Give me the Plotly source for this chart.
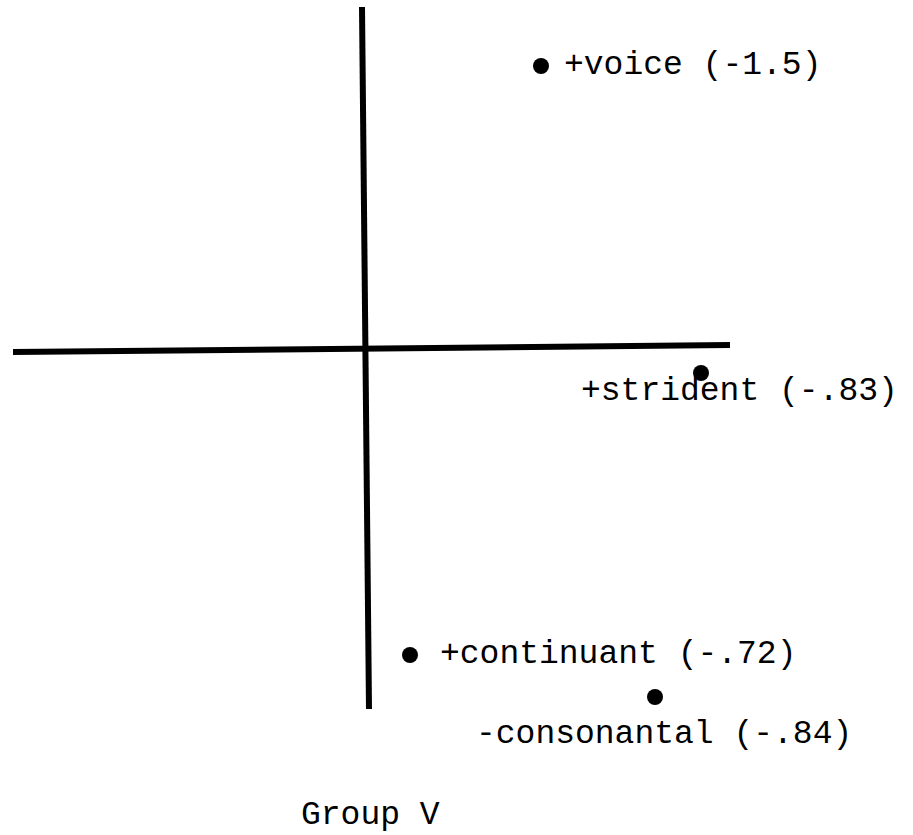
import plotly.graph_objects as go

# Feature points (offsets from the axis crossing; x to the right, y upward)
features = ["+voice", "+strident", "+continuant", "-consonantal"]
values = ["(-1.5)", "(-.83)", "(-.72)", "(-.84)"]
feat_x = [177, 337, 46, 291]
feat_y = [282, -25, -307, -349]

# Axis line endpoints (same coordinate system)
h_axis_x = [-351, 366]
h_axis_y = [-4, 3]
v_axis_x = [-2, 5]
v_axis_y = [341, -361]

title_text = "Group V"

# label placement styles (pixel shifts relative to each dot)
label_style = [
    dict(xanchor="left", xshift=21, yshift=1),
    dict(xanchor="center", xshift=38, yshift=-18),
    dict(xanchor="left", xshift=28, yshift=1),
    dict(xanchor="center", xshift=9, yshift=-37),
]

FONT = dict(family="Liberation Mono, Courier New, monospace", size=33, color="#000000")

fig = go.Figure()
fig.add_trace(go.Scatter(x=h_axis_x, y=h_axis_y, mode="lines",
                         line=dict(color="#000000", width=6), hoverinfo="skip"))
fig.add_trace(go.Scatter(x=v_axis_x, y=v_axis_y, mode="lines",
                         line=dict(color="#000000", width=6), hoverinfo="skip"))
fig.add_trace(go.Scatter(x=feat_x, y=feat_y, mode="markers",
                         marker=dict(color="#000000", size=16), hoverinfo="skip"))

for f, v, x, y, st in zip(features, values, feat_x, feat_y, label_style):
    fig.add_annotation(x=x, y=y, text=f"{f} {v}", showarrow=False,
                       font=FONT, yanchor="middle", **st)

fig.add_annotation(x=-65, y=-467, text=title_text, showarrow=False, font=FONT,
                   xanchor="left", yanchor="middle")

fig.update_layout(
    width=913, height=835,
    margin=dict(l=0, r=0, t=0, b=0),
    paper_bgcolor="white", plot_bgcolor="white",
    showlegend=False,
    xaxis=dict(range=[-364, 549], visible=False, fixedrange=True),
    yaxis=dict(range=[-487, 348], visible=False, fixedrange=True),
)

fig.write_html("out.html", config={"displayModeBar": False},
               post_script="document.body.style.margin='0';document.body.style.overflow='hidden';")
